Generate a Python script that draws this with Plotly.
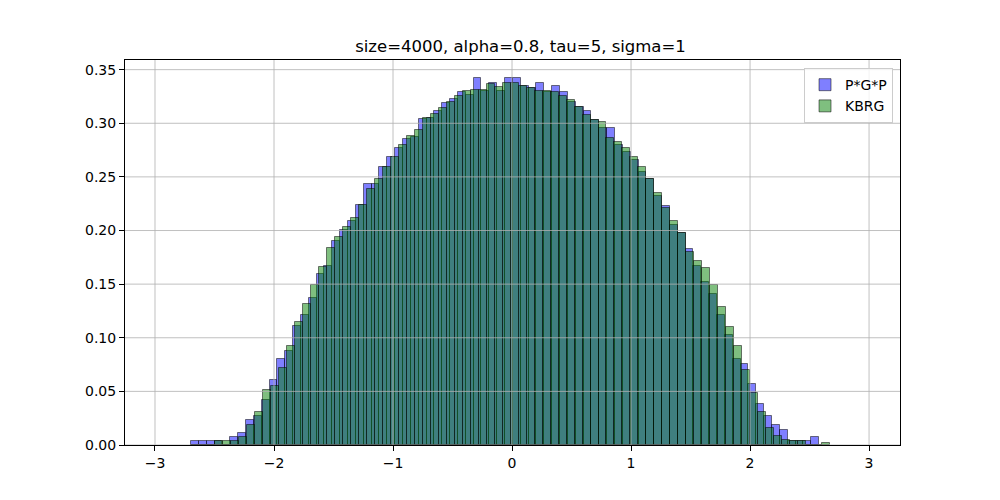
import plotly.graph_objects as go

# ---- data (density heights per histogram bin) ----
pgp_bin_start = -2.6975      # left edge of first P*G*P bin
pgp_bin_width = 0.06597
pgp_heights = [
    0.0038, 0.0038, 0.0038, 0.0038, 0.0, 0.0076, 0.0114, 0.023, 0.0275, 0.042,
    0.061, 0.080, 0.0874, 0.1106, 0.1215, 0.137, 0.159, 0.1665, 0.190, 0.2007,
    0.209, 0.224, 0.243, 0.2435, 0.259, 0.269, 0.277, 0.285, 0.287, 0.3037,
    0.3047, 0.3115, 0.3186, 0.3223, 0.3294, 0.3263, 0.3419, 0.3304, 0.338, 0.330,
    0.342, 0.342, 0.335, 0.3326, 0.338, 0.329, 0.335, 0.329, 0.3195, 0.315,
    0.311, 0.303, 0.2953, 0.296, 0.280, 0.273, 0.2658, 0.2544, 0.248, 0.2323,
    0.2233, 0.2053, 0.1976, 0.1827, 0.1665, 0.152, 0.141, 0.1215, 0.1029, 0.0805,
    0.0756, 0.0573, 0.0386, 0.0275, 0.019, 0.0144, 0.0038, 0.0038, 0.0038, 0.0076,
]

kbrg_bin_start = -2.6975     # left edge of first KBRG bin
kbrg_bin_width = 0.06714
kbrg_heights = [
    0.0, 0.0, 0.0, 0.0037, 0.0037, 0.0037, 0.0075, 0.0186, 0.031, 0.051,
    0.055, 0.072, 0.092, 0.1147, 0.1315, 0.149, 0.166, 0.1836, 0.194, 0.203,
    0.2115, 0.224, 0.239, 0.248, 0.259, 0.269, 0.280, 0.288, 0.294, 0.3047,
    0.309, 0.314, 0.3195, 0.3254, 0.3304, 0.331, 0.331, 0.3366, 0.334, 0.338,
    0.338, 0.335, 0.333, 0.330, 0.330, 0.329, 0.3257, 0.3217, 0.315, 0.3077,
    0.303, 0.301, 0.286, 0.283, 0.2767, 0.269, 0.259, 0.248, 0.2348, 0.2208,
    0.2093, 0.1976, 0.180, 0.172, 0.165, 0.149, 0.1287, 0.110, 0.092, 0.0703,
    0.0486, 0.0305, 0.016, 0.008, 0.0045, 0.0037, 0.0037, 0.0, 0.0, 0.002,
]

series_names = ["P*G*P", "KBRG"]
x_ticks = [-3, -2, -1, 0, 1, 2, 3]
y_ticks = [0.00, 0.05, 0.10, 0.15, 0.20, 0.25, 0.30, 0.35]
title_text = "size=4000, alpha=0.8, tau=5, sigma=1"

# ---- build figure ----
def centers(start, width, n):
    return [start + width * (i + 0.5) for i in range(n)]

FONT = "DejaVu Sans"
fig = go.Figure()
fig.add_trace(go.Bar(
    x=centers(pgp_bin_start, pgp_bin_width, len(pgp_heights)),
    y=pgp_heights,
    width=pgp_bin_width,
    name=series_names[0],
    marker=dict(color="rgba(0,0,255,0.5)",
                line=dict(color="rgba(0,0,0,0.5)", width=1)),
))
fig.add_trace(go.Bar(
    x=centers(kbrg_bin_start, kbrg_bin_width, len(kbrg_heights)),
    y=kbrg_heights,
    width=kbrg_bin_width,
    name=series_names[1],
    marker=dict(color="rgba(0,128,0,0.5)",
                line=dict(color="rgba(0,0,0,0.5)", width=1)),
))

# grid drawn above bars (as matplotlib does)
shapes = []
for t in x_ticks:
    shapes.append(dict(type="line", xref="x", yref="paper", x0=t, x1=t, y0=0, y1=1,
                       line=dict(color="#b0b0b0", width=0.8), layer="above"))
for t in y_ticks:
    shapes.append(dict(type="line", xref="paper", yref="y", x0=0, x1=1, y0=t, y1=t,
                       line=dict(color="#b0b0b0", width=0.8), layer="above"))

fig.update_layout(
    width=1000, height=500,
    barmode="overlay", bargap=0,
    plot_bgcolor="white", paper_bgcolor="white",
    margin=dict(l=117, r=108, t=52, b=63),
    font=dict(family=FONT, size=14, color="black"),
    title=dict(text=title_text, x=0.5125, xanchor="center", y=0.924, yanchor="middle",
               font=dict(family=FONT, size=16.5, color="black")),
    showlegend=True,
    legend=dict(x=0.991, y=0.979, xanchor="right", yanchor="top",
                bgcolor="rgba(255,255,255,0.8)", bordercolor="#cccccc", borderwidth=1,
                font=dict(family=FONT, size=14), tracegroupgap=0, itemwidth=30),
    shapes=shapes,
)
fig.update_xaxes(range=[-3.252, 3.26], tickvals=x_ticks, ticks="outside", ticklen=5,
                 tickcolor="black", showgrid=False, zeroline=False, showline=True,
                 linecolor="black", linewidth=1, mirror=True)
fig.update_yaxes(range=[0, 0.359], tickvals=y_ticks, tickformat=".2f", ticks="outside",
                 ticklen=5, tickcolor="black", showgrid=False, zeroline=False,
                 showline=True, linecolor="black", linewidth=1, mirror=True)

fig.write_html("out.html")
